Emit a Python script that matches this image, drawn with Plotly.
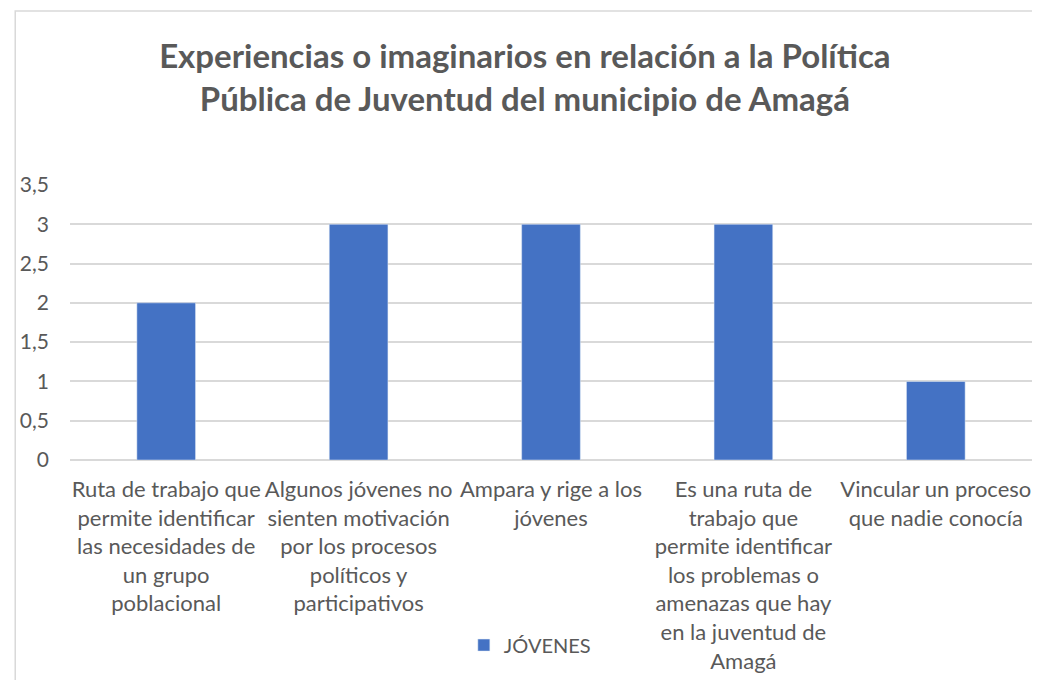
import plotly.graph_objects as go

categorias = [
    "Ruta de trabajo que<br>permite identificar<br>las necesidades de<br>un grupo<br>poblacional",
    "Algunos jóvenes no<br>sienten motivación<br>por los procesos<br>políticos y<br>participativos",
    "Ampara y rige a los<br>jóvenes",
    "Es una ruta de<br>trabajo que<br>permite identificar<br>los problemas o<br>amenazas que hay<br>en la juventud de<br>Amagá",
    "Vincular un proceso<br>que nadie conocía",
]
jovenes = [2, 3, 3, 3, 1]
y_ticks = [0, 0.5, 1, 1.5, 2, 2.5, 3, 3.5]

gris = "#595959"
fuente = "Lato, 'Open Sans', sans-serif"

# la pagina tiene 8px de margen en el body, se compensa aqui
L, T, W, H = 58, 177, 966, 275

fig = go.Figure()
fig.add_trace(go.Bar(
    x=categorias,
    y=jovenes,
    name="JÓVENES",
    marker=dict(color="#4472c4"),
))

fig.update_layout(
    width=1040,
    height=680,
    paper_bgcolor="white",
    plot_bgcolor="white",
    separators=",.",
    font=dict(family=fuente, size=21, color=gris),
    margin=dict(l=L, r=1040 - L - W, t=T, b=680 - T - H),
    bargap=0.695,
    title=dict(
        text="<b>Experiencias o imaginarios en relación a la Política<br>Pública de Juventud del municipio de Amagá</b>",
        x=0.497,
        xanchor="center",
        y=0.912,
        yanchor="middle",
        font=dict(family=fuente, size=33, color=gris),
    ),
    showlegend=True,
    legend=dict(
        orientation="h",
        x=0.478,
        xanchor="center",
        y=-0.673,
        yanchor="middle",
        itemwidth=30,
        font=dict(size=20, color=gris),
    ),
    xaxis=dict(
        showgrid=False,
        showline=False,
        tickangle=0,
        ticklabelstandoff=14,
        tickfont=dict(size=22, color=gris),
    ),
    yaxis=dict(
        range=[0, 3.5],
        tickvals=y_ticks,
        showgrid=True,
        gridcolor="#d9d9d9",
        gridwidth=1.5,
        zeroline=True,
        zerolinecolor="#d9d9d9",
        zerolinewidth=1.5,
        showline=False,
        ticklabelstandoff=20,
        tickfont=dict(size=21, color=gris),
    ),
    shapes=[dict(
        type="rect",
        xref="paper", yref="paper",
        x0=(3 - L) / W, x1=1.2,
        y0=-1.5, y1=1 + (T - 3) / H,
        line=dict(color="#d9d9d9", width=1.5),
        fillcolor="rgba(0,0,0,0)",
        layer="below",
    )],
)

fig.write_html("out.html")
